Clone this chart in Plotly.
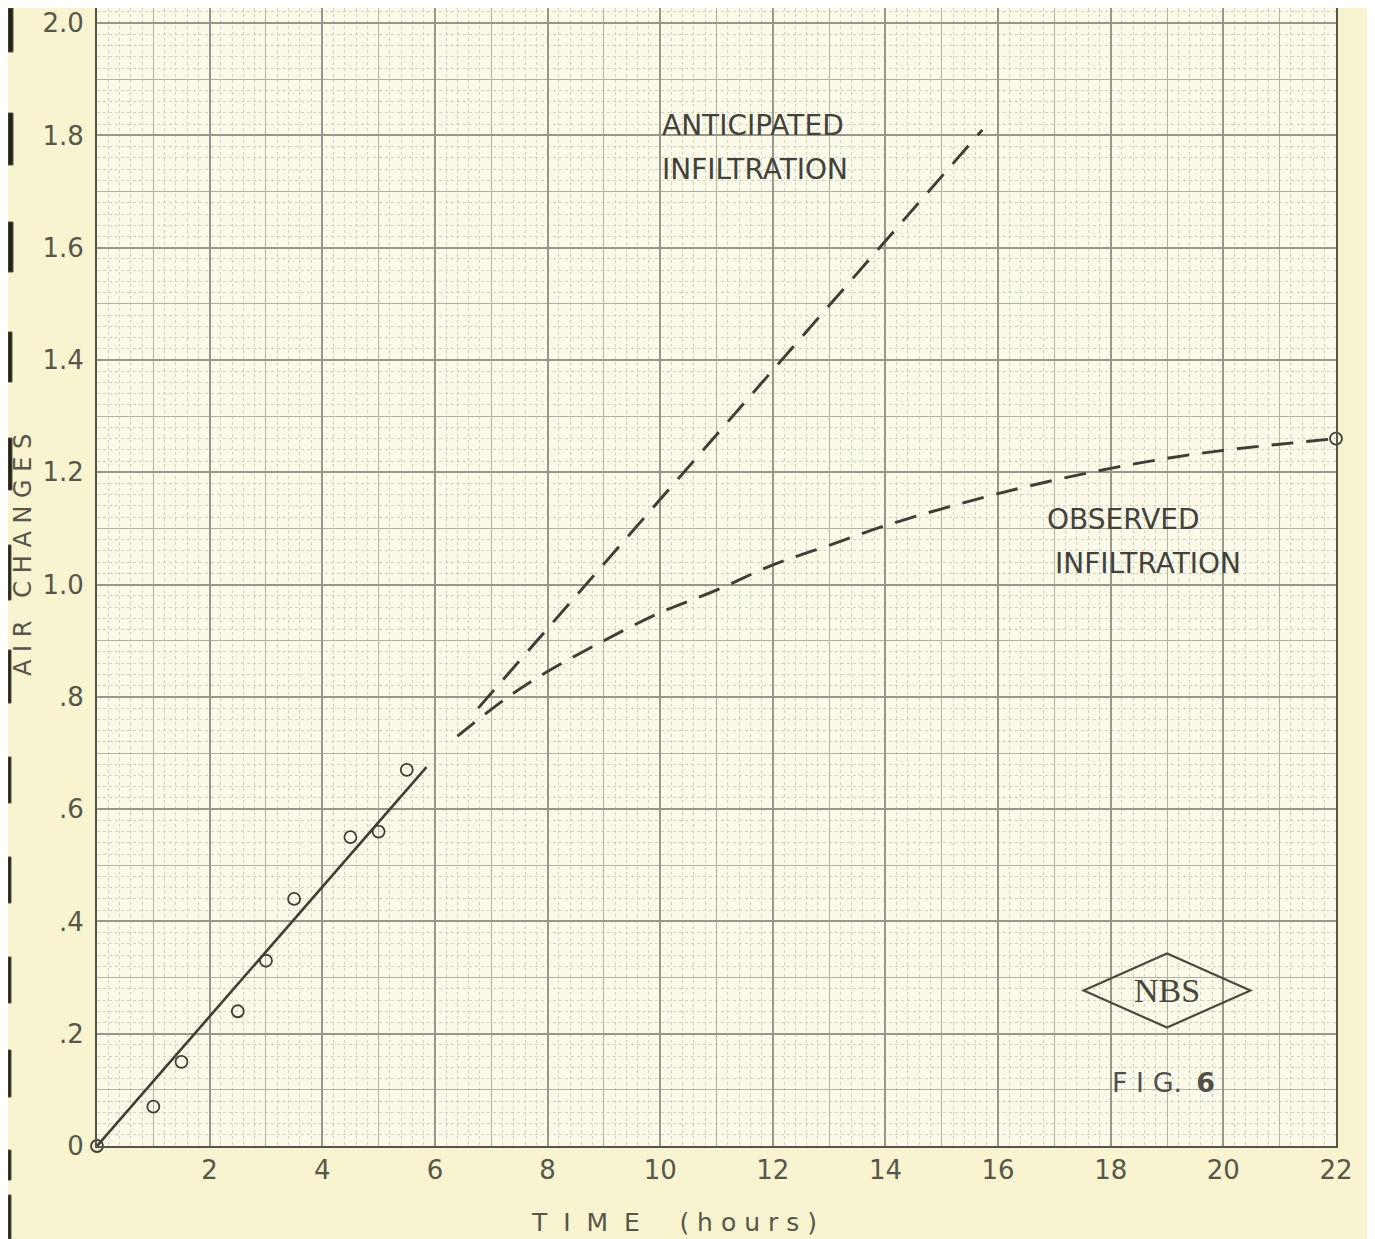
import plotly.graph_objects as go

# ---------------- data ----------------
meas_time = [0, 1.0, 1.5, 2.5, 3.0, 3.5, 4.5, 5.0, 5.5, 22.0]
meas_air = [0, 0.07, 0.15, 0.24, 0.33, 0.44, 0.55, 0.56, 0.67, 1.26]

fit_time = [0, 5.85]
fit_air = [0, 0.675]

anticipated_time = [6.77, 15.72]
anticipated_air = [0.78, 1.81]

observed_time = [6.4, 7.3, 8.0, 9.0, 10.0, 11.0, 12.0, 13.0, 14.0, 15.0,
                 16.0, 17.0, 18.0, 19.0, 20.0, 21.0, 22.0]
observed_air = [0.73, 0.80, 0.845, 0.90, 0.95, 0.99, 1.035, 1.07, 1.105, 1.135,
                1.162, 1.186, 1.207, 1.225, 1.239, 1.250, 1.26]

x_ticks = list(range(1, 23))
x_ticktext = [str(v) if v % 2 == 0 else "" for v in x_ticks]
y_ticks = [round(i * 0.1, 1) for i in range(0, 21)]
y_labels = ["0", "", ".2", "", ".4", "", ".6", "", ".8", "", "1.0", "", "1.2", "",
            "1.4", "", "1.6", "", "1.8", "", "2.0"]

# ---------------- styling ----------------
OFF = 8  # page body margin of the browser
W, H = 1375 - OFF, 1239 - OFF
ML, MR, MT, MB = 89, 39, 0, 93
PW, PH = W - ML - MR, H - MT - MB
INK = "#3e3e36"
TXT = "#56564a"
FONT = "DejaVu Sans"
HEAVY = "#98988a"
MED = "#b3b3a3"
MINOR = "#d4d4c0"


def px_to_paper(px, py):
    return (px - OFF - ML) / PW, (OFF + MT + PH - py) / PH


fig = go.Figure()

fig.add_trace(go.Scatter(x=fit_time, y=fit_air, mode="lines",
                         line=dict(color=INK, width=2.6), hoverinfo="skip",
                         showlegend=False, cliponaxis=False))
fig.add_trace(go.Scatter(x=anticipated_time, y=anticipated_air, mode="lines",
                         line=dict(color=INK, width=2.9, dash="24px,14px"),
                         showlegend=False, cliponaxis=False))
fig.add_trace(go.Scatter(x=observed_time, y=observed_air, mode="lines",
                         line=dict(color=INK, width=2.9, dash="22px,13px", shape="spline"),
                         showlegend=False, cliponaxis=False))
fig.add_trace(go.Scatter(x=meas_time, y=meas_air, mode="markers",
                         marker=dict(symbol="circle-open", size=12, color=INK,
                                     line=dict(width=1.8, color=INK)),
                         showlegend=False, cliponaxis=False))
# dummy trace to instantiate the overlay axes carrying the heavy grid
fig.add_trace(go.Scatter(x=[None], y=[None], xaxis="x2", yaxis="y2",
                         showlegend=False, hoverinfo="skip"))

X_RANGE = [0, 22]
Y_RANGE = [0, 2.027]

fig.update_layout(
    width=W, height=H,
    margin=dict(l=ML, r=MR, t=MT, b=MB),
    paper_bgcolor="#f8f4d0",
    plot_bgcolor="#fbfae8",
    font=dict(family=FONT, color=TXT, size=26),
    xaxis=dict(range=X_RANGE, tickmode="array", tickvals=x_ticks, ticktext=x_ticktext,
               showgrid=True, gridcolor=MED, gridwidth=1,
               minor=dict(tickmode="linear", tick0=0, dtick=0.2, showgrid=True,
                          gridcolor=MINOR, gridwidth=1, griddash="dot"),
               showline=True, linecolor="#55554a", linewidth=2,
               ticks="", ticklabelstandoff=0, zeroline=False,
               tickfont=dict(size=26, color=TXT, family=FONT)),
    yaxis=dict(range=Y_RANGE, tickmode="array", tickvals=y_ticks, ticktext=y_labels,
               showgrid=True, gridcolor=MED, gridwidth=1,
               minor=dict(tickmode="linear", tick0=0, dtick=0.02, showgrid=True,
                          gridcolor=MINOR, gridwidth=1, griddash="dot"),
               showline=True, mirror=True, linecolor="#55554a", linewidth=2,
               ticks="", ticklabelstandoff=6, zeroline=False,
               tickfont=dict(size=26, color=TXT, family=FONT)),
    xaxis2=dict(range=X_RANGE, overlaying="x", tickmode="array",
                tickvals=list(range(0, 23, 2)), showgrid=True, gridcolor=HEAVY,
                gridwidth=1.5, showticklabels=False, showline=False, zeroline=False, ticks=""),
    yaxis2=dict(range=Y_RANGE, overlaying="y", tickmode="array",
                tickvals=[round(i * 0.2, 1) for i in range(0, 11)], showgrid=True,
                gridcolor=HEAVY, gridwidth=1.5, showticklabels=False, showline=False,
                zeroline=False, ticks=""),
    hovermode=False,
)

# text labels
LBL = dict(showarrow=False, font=dict(family=FONT, size=28, color="#42423a"),
           xanchor="left", yanchor="middle")
fig.add_annotation(x=10.0, y=1.817, text="ANTICIPATED", **LBL)
fig.add_annotation(x=10.0, y=1.739, text="INFILTRATION", **LBL)
fig.add_annotation(x=16.84, y=1.116, text="OBSERVED", **LBL)
fig.add_annotation(x=16.98, y=1.038, text="INFILTRATION", **LBL)

# FIG 6
fig.add_annotation(x=18.93, y=0.114, text="F I G.\u2009 <b>6</b>", showarrow=False,
                   font=dict(family=FONT, size=27, color="#50504a"),
                   xanchor="center", yanchor="middle")

# NBS logo (diamond + serif text)
LOGO_X, LOGO_Y, LOGO_HW, LOGO_HH = 19.0, 0.277, 1.48, 0.066
fig.add_shape(type="path",
              path=(f"M {LOGO_X - LOGO_HW} {LOGO_Y} L {LOGO_X} {LOGO_Y + LOGO_HH} "
                    f"L {LOGO_X + LOGO_HW} {LOGO_Y} L {LOGO_X} {LOGO_Y - LOGO_HH} Z"),
              line=dict(color="#4a4a40", width=2.2), xref="x", yref="y")
fig.add_annotation(x=LOGO_X, y=LOGO_Y, text="NBS", showarrow=False,
                   font=dict(family="Liberation Serif", size=34, color="#46463c"),
                   xanchor="center", yanchor="middle")

# axis titles
tx, ty = px_to_paper(674, 1222)
fig.add_annotation(xref="paper", yref="paper", x=tx, y=ty, showarrow=False,
                   text="T\u00a0\u00a0I\u00a0\u00a0M\u00a0\u00a0E\u00a0\u00a0\u00a0\u00a0\u00a0"
                        "(\u00a0h\u00a0o\u00a0u\u00a0r\u00a0s\u00a0)",
                   font=dict(family=FONT, size=25, color=TXT),
                   xanchor="center", yanchor="middle")
ax_, ay_ = px_to_paper(23, 555)
fig.add_annotation(xref="paper", yref="paper", x=ax_, y=ay_, showarrow=False,
                   text="A I R\u00a0\u00a0 C H A N G E S", textangle=-90,
                   font=dict(family=FONT, size=24, color=TXT),
                   xanchor="center", yanchor="middle")

# binder holes along the left edge of the scanned sheet (decoration)
holes = [(8, 52, 13), (113, 165, 13), (222, 272, 13), (332, 382, 12), (438, 490, 12),
         (545, 600, 11), (650, 703, 10), (757, 803, 9), (857, 903, 9), (957, 1003, 9),
         (1050, 1097, 9), (1150, 1180, 8), (1195, 1239, 8)]
for top, bot, wid in holes:
    x0, y0 = px_to_paper(OFF, bot)
    x1, y1 = px_to_paper(max(wid, OFF + 3), top)
    fig.add_shape(type="rect", xref="paper", yref="paper", x0=x0, x1=x1, y0=y0, y1=y1,
                  fillcolor="#222218", line=dict(color="#555548", width=1), layer="above")

fig.write_html("out.html")
